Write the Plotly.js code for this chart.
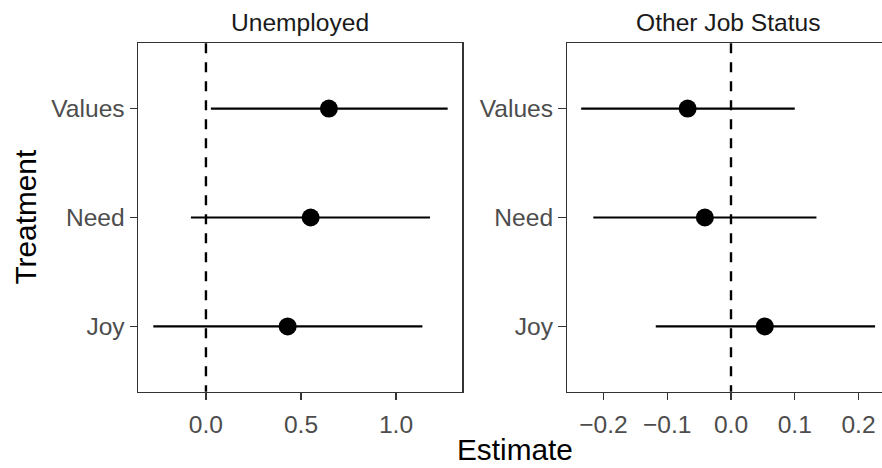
<!DOCTYPE html>
<html>
<head>
<meta charset="utf-8">
<script src="https://cdn.plot.ly/plotly-3.0.1.min.js"></script>
<style>
  html, body { margin: 0; padding: 0; background: #ffffff; overflow: hidden; width: 882px; height: 468px; }
  #chart { width: 892px; height: 468px; }
</style>
</head>
<body>
<div id="chart"></div>
<script>
// Treatment categories, bottom to top
const treatments = ['Joy', 'Need', 'Values'];

// Panel 1: Unemployed
const unempEst = [0.430, 0.551, 0.647];
const unempLow = [-0.277, -0.079, 0.026];
const unempHigh = [1.139, 1.179, 1.272];

// Panel 2: Other Job Status
const otherEst = [0.053, -0.041, -0.068];
const otherLow = [-0.118, -0.216, -0.235];
const otherHigh = [0.226, 0.134, 0.100];

const panelTitles = ['Unemployed', 'Other Job Status'];
const xTitle = 'Estimate';
const yTitle = 'Treatment';

const FONT = 'Liberation Sans, Arial, Helvetica, sans-serif';
const W = 892, H = 468;
const TICK_SIZE = 24.6, TITLE_SIZE = 29.8;

function rangeTrace(est, lo, hi, xa, ya) {
  return {
    type: 'scatter',
    mode: 'markers',
    x: est,
    y: treatments,
    xaxis: xa,
    yaxis: ya,
    marker: { color: '#000000', size: 18 },
    error_x: {
      type: 'data',
      symmetric: false,
      array: hi.map((h, i) => h - est[i]),
      arrayminus: lo.map((l, i) => est[i] - l),
      width: 0,
      thickness: 2.2,
      color: '#000000'
    },
    hoverinfo: 'x+y',
    showlegend: false
  };
}

const data = [
  rangeTrace(unempEst, unempLow, unempHigh, 'x', 'y'),
  rangeTrace(otherEst, otherLow, otherHigh, 'x2', 'y2')
];

// panel boxes in pixels
const p1 = [138.3, 462.3], p2 = [566.7, 890.7];
const panelTop = 43.3, panelBottom = 391.7;
const yDom = [1 - panelBottom / H, 1 - panelTop / H];

const axisCommon = {
  showline: true,
  mirror: true,
  linecolor: '#333333',
  linewidth: 1.2,
  ticks: 'outside',
  ticklen: 7.5,
  tickwidth: 1.2,
  tickcolor: '#333333',
  showgrid: false,
  zeroline: false,
  tickfont: { family: FONT, size: TICK_SIZE, color: '#4D4D4D' }
};

const yCommon = Object.assign({}, axisCommon, {
  type: 'category',
  categoryorder: 'array',
  categoryarray: treatments,
  range: [-0.6, 2.6],
  domain: yDom
});

const layout = {
  width: W,
  height: H,
  margin: { l: 0, r: 0, t: 0, b: 0 },
  paper_bgcolor: '#ffffff',
  plot_bgcolor: '#ffffff',
  xaxis: Object.assign({}, axisCommon, {
    domain: [p1[0] / W, p1[1] / W],
    range: [-0.356, 1.349],
    tickvals: [0, 0.5, 1.0],
    tickformat: '.1f',
    ticklabelstandoff: 3,
    anchor: 'y'
  }),
  yaxis: Object.assign({}, yCommon, { anchor: 'x' }),
  xaxis2: Object.assign({}, axisCommon, {
    domain: [p2[0] / W, p2[1] / W],
    range: [-0.2577, 0.2505],
    tickvals: [-0.2, -0.1, 0, 0.1, 0.2],
    tickformat: '.1f',
    ticklabelstandoff: 3,
    anchor: 'y2'
  }),
  yaxis2: Object.assign({}, yCommon, { anchor: 'x2' }),
  shapes: [
    { type: 'line', xref: 'x', yref: 'y domain', x0: 0, x1: 0, y0: 1, y1: 0,
      line: { color: '#000000', width: 2.4, dash: '10px,9px' }, layer: 'below' },
    { type: 'line', xref: 'x2', yref: 'y2 domain', x0: 0, x1: 0, y0: 1, y1: 0,
      line: { color: '#000000', width: 2.4, dash: '10px,9px' }, layer: 'below' }
  ],
  annotations: [
    { text: panelTitles[0], xref: 'paper', yref: 'paper',
      x: (p1[0] + p1[1]) / 2 / W, y: 1 - 22 / H, xanchor: 'center', yanchor: 'middle',
      showarrow: false, font: { family: FONT, size: TICK_SIZE, color: '#1A1A1A' } },
    { text: panelTitles[1], xref: 'paper', yref: 'paper',
      x: (p2[0] + p2[1]) / 2 / W, y: 1 - 22 / H, xanchor: 'center', yanchor: 'middle',
      showarrow: false, font: { family: FONT, size: TICK_SIZE, color: '#1A1A1A' } },
    { text: xTitle, xref: 'paper', yref: 'paper',
      x: (p1[0] + p2[1]) / 2 / W, y: 1 - 449 / H, xanchor: 'center', yanchor: 'middle',
      showarrow: false, font: { family: FONT, size: TITLE_SIZE, color: '#000000' } },
    { text: yTitle, xref: 'paper', yref: 'paper',
      x: 25 / W, y: 1 - (panelTop + panelBottom) / 2 / H, xanchor: 'center', yanchor: 'middle',
      textangle: -90,
      showarrow: false, font: { family: FONT, size: TITLE_SIZE, color: '#000000' } }
  ]
};

Plotly.newPlot('chart', data, layout, { displayModeBar: false, staticPlot: true });
</script>
</body>
</html>
